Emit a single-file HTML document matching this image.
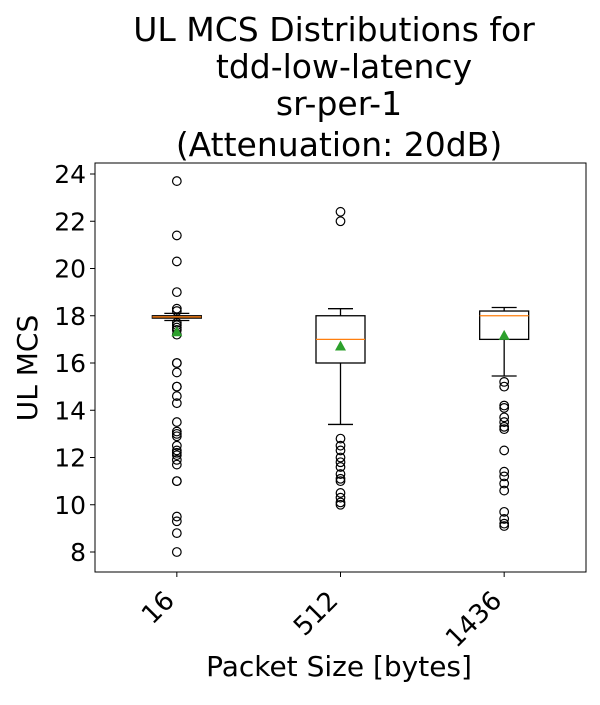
<!DOCTYPE html>
<html><head><meta charset="utf-8"><style>
body{margin:0;background:#fff;}
svg text{font-family:"DejaVu Sans","Liberation Sans",sans-serif;fill:#000;}
</style></head><body>
<svg id="chart" width="600" height="700" xmlns="http://www.w3.org/2000/svg">
<g font-size="33" text-anchor="middle">
<text x="334" y="41">UL MCS Distributions for</text>
<text x="344" y="78">tdd-low-latency</text>
<text x="339" y="115">sr-per-1</text>
<text x="339" y="156">(Attenuation: 20dB)</text>
</g>
<g id="plot"></g>
<text font-size="28" text-anchor="middle" transform="translate(37,368) rotate(-90)">UL MCS</text>
<text font-size="28" text-anchor="middle" x="339" y="676">Packet Size [bytes]</text>
</svg>
<script>
const categories = ["16","512","1436"];
const q1 = [17.9, 16.0, 17.0];
const medians = [17.95, 17.0, 18.0];
const q3 = [18.0, 18.0, 18.2];
const whiskLo = [17.8, 13.4, 15.45];
const whiskHi = [18.1, 18.3, 18.35];
const means = [17.3, 16.7, 17.15];
const outliers0 = [23.7,21.4,20.3,19.0,18.3,18.2,17.7,17.6,17.5,17.4,17.2,16.0,16.0,15.6,15.0,15.0,14.6,14.3,13.5,13.1,13.0,12.9,12.5,12.3,12.2,12.1,11.9,11.7,11.0,11.0,9.5,9.3,8.8,8.0];
const outliers1 = [22.4,22.0,12.8,12.5,12.3,12.0,11.8,11.6,11.3,11.1,11.0,10.5,10.3,10.1,10.0];
const outliers2 = [15.2,15.0,14.2,14.1,13.7,13.5,13.3,13.2,12.3,11.4,11.2,10.9,10.6,9.7,9.4,9.2,9.1];
const yTicks = [8,10,12,14,16,18,20,22,24];

const L=95,R=586,T=163,B=572;
const x = i => L + (i+0.5)*(R-L)/3;
const y = v => 552 - (v-8)*23.625;
const NS="http://www.w3.org/2000/svg";
const g=document.getElementById('plot');
function mk(tag,attrs,parent){const e=document.createElementNS(NS,tag);for(const k in attrs)e.setAttribute(k,attrs[k]);(parent||g).appendChild(e);return e;}

const frame=mk('rect',{x:L,y:T,width:R-L,height:B-T,fill:'none',stroke:'#000','stroke-width':1});



yTicks.forEach(t=>{
  const ln=mk('line',{x1:L-5,x2:L,y1:y(t),y2:y(t),stroke:'#000'});
  
  
  const tx=mk('text',{x:L-9,y:y(t)+9,'font-size':25,'text-anchor':'end'});
  tx.textContent=t;
  
  
});

const outs=[outliers0,outliers1,outliers2];
categories.forEach((c,i)=>{
  const cx=x(i), hw=24.5, cw=12.5;
  const tk=mk('line',{x1:cx,x2:cx,y1:B,y2:B+5,stroke:'#000'});
  
  
  const lb=mk('text',{'font-size':26,'text-anchor':'end',transform:`translate(${cx-1},${B+30}) rotate(-45)`});
  lb.textContent=c;
  
  
  const bg=mk('g',{});
  
  
  mk('line',{x1:cx,x2:cx,y1:y(q1[i]),y2:y(whiskLo[i]),stroke:'#000','stroke-width':1.3},bg);
  mk('line',{x1:cx,x2:cx,y1:y(q3[i]),y2:y(whiskHi[i]),stroke:'#000','stroke-width':1.3},bg);
  mk('line',{x1:cx-cw,x2:cx+cw,y1:y(whiskLo[i]),y2:y(whiskLo[i]),stroke:'#000','stroke-width':1.3},bg);
  mk('line',{x1:cx-cw,x2:cx+cw,y1:y(whiskHi[i]),y2:y(whiskHi[i]),stroke:'#000','stroke-width':1.3},bg);
  mk('rect',{x:cx-hw,y:y(q3[i]),width:2*hw,height:Math.max(1,y(q1[i])-y(q3[i])),fill:'none',stroke:'#000','stroke-width':1.3},bg);
  mk('line',{x1:cx-hw,x2:cx+hw,y1:y(medians[i]),y2:y(medians[i]),stroke:'#ff7f0e','stroke-width':1.3},bg);
  outs[i].forEach(v=>{
    const o=mk('circle',{cx:cx,cy:y(v),r:4.3,fill:'none',stroke:'#000','stroke-width':1.2},bg);
    
    
  });
  const my=y(means[i]);
  const m=mk('polygon',{points:`${cx},${my-6} ${cx-5.5},${my+4} ${cx+5.5},${my+4}`,fill:'#2ca02c'},bg);
  
  
});
</script>
</body></html>
